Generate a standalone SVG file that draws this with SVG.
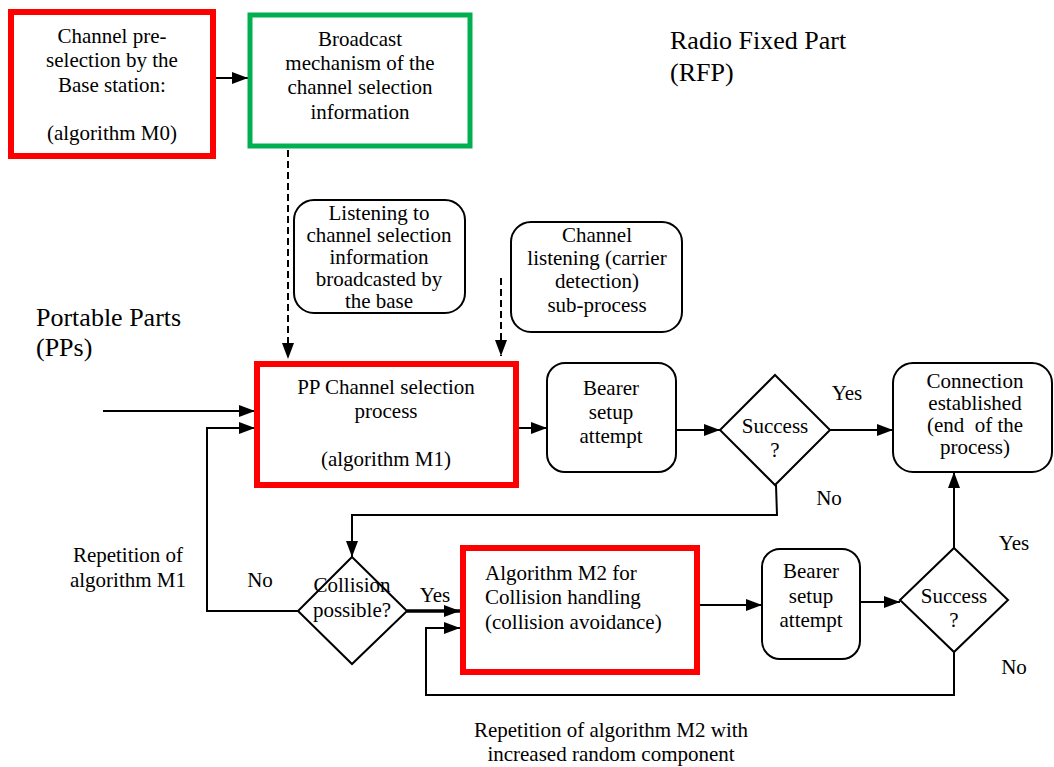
<svg xmlns="http://www.w3.org/2000/svg" width="1054" height="767" viewBox="0 0 1054 767" font-family="Liberation Serif, Times New Roman, serif">
<defs>
<marker id="ah" viewBox="0 0 16 12" refX="16" refY="6" markerWidth="16" markerHeight="12" markerUnits="userSpaceOnUse" orient="auto">
<path d="M0,0 L16,6 L0,12 z" fill="#000"/>
</marker>
</defs>
<style>
text{font-size:21px;fill:#000}
.c{text-anchor:middle}
.big{font-size:26px}
.red{fill:#fff;stroke:#ff0000;stroke-width:6}
.green{fill:#fff;stroke:#00b050;stroke-width:5}
.rnd{fill:#fff;stroke:#000;stroke-width:2}
.dia{fill:#fff;stroke:#000;stroke-width:2}
.ln{fill:none;stroke:#000;stroke-width:2;marker-end:url(#ah)}
.dash{fill:none;stroke:#000;stroke-width:2;stroke-dasharray:7 4;marker-end:url(#ah)}
</style>
<rect width="1054" height="767" fill="#fff"/>

<g id="connectors">
<line class="ln" x1="214" y1="78" x2="248" y2="78"/>
<line class="dash" x1="288" y1="150" x2="288" y2="359"/>
<line class="dash" x1="501" y1="278" x2="501" y2="356"/>
<line class="ln" x1="103" y1="411" x2="255" y2="411"/>
<polyline class="ln" points="298,611 207,611 207,428 255,428"/>
<line class="ln" x1="519" y1="428" x2="547" y2="428"/>
<line class="ln" x1="676" y1="430" x2="720" y2="430"/>
<line class="ln" x1="830" y1="430" x2="893" y2="430"/>
<polyline class="ln" points="776,485 777,515 352,515 352,557"/>
<line class="ln" x1="407" y1="611" x2="460" y2="611" style="stroke-width:3.5"/>
<line class="ln" x1="697" y1="605" x2="762" y2="605"/>
<line class="ln" x1="860" y1="602" x2="900" y2="602"/>
<line class="ln" x1="954" y1="548" x2="954" y2="472"/>
<polyline class="ln" points="954,652 954,695 426,695 426,628 460,628"/>
</g>

<g id="m0">
<rect class="red" x="11" y="12" width="202" height="144"/>
<text class="c" x="112" y="43">Channel pre-</text>
<text class="c" x="112" y="67">selection by the</text>
<text class="c" x="112" y="92">Base station:</text>
<text class="c" x="112" y="140">(algorithm M0)</text>
</g>

<g id="broadcast">
<rect class="green" x="250" y="15" width="220" height="131"/>
<text class="c" x="360" y="46">Broadcast</text>
<text class="c" x="360" y="70">mechanism of the</text>
<text class="c" x="360" y="94">channel selection</text>
<text class="c" x="360" y="119">information</text>
</g>

<g id="rfp">
<text class="big" x="670" y="49">Radio Fixed Part</text>
<text class="big" x="670" y="81">(RFP)</text>
</g>

<g id="listening">
<rect class="rnd" x="294" y="200" width="171" height="113" rx="20"/>
<text class="c" x="379" y="220">Listening to</text>
<text class="c" x="379" y="242">channel selection</text>
<text class="c" x="379" y="264">information</text>
<text class="c" x="379" y="286">broadcasted by</text>
<text class="c" x="379" y="308">the base</text>
</g>

<g id="carrier">
<rect class="rnd" x="511" y="222" width="171" height="110" rx="20"/>
<text class="c" x="597" y="242">Channel</text>
<text class="c" x="597" y="265">listening (carrier</text>
<text class="c" x="597" y="288">detection)</text>
<text class="c" x="597" y="312">sub-process</text>
</g>

<g id="pps">
<text class="big" x="36" y="326">Portable Parts</text>
<text class="big" x="36" y="356">(PPs)</text>
</g>

<g id="m1">
<rect class="red" x="257" y="364" width="259" height="121"/>
<text class="c" x="386" y="394">PP Channel selection</text>
<text class="c" x="386" y="418">process</text>
<text class="c" x="386" y="466">(algorithm M1)</text>
</g>

<g id="bearer1">
<rect class="rnd" x="547" y="363" width="129" height="109" rx="18"/>
<text class="c" x="611" y="395">Bearer</text>
<text class="c" x="611" y="419">setup</text>
<text class="c" x="611" y="443">attempt</text>
</g>

<g id="success1">
<polygon class="dia" points="775,375 830,430 775,485 720,430"/>
<text class="c" x="775" y="433">Success</text>
<text class="c" x="775" y="457">?</text>
<text class="c" x="847" y="400">Yes</text>
<text class="c" x="829" y="505">No</text>
</g>

<g id="connection">
<rect class="rnd" x="893" y="363" width="159" height="109" rx="20"/>
<text class="c" x="975" y="388">Connection</text>
<text class="c" x="975" y="410">established</text>
<text class="c" x="975" y="432" xml:space="preserve">(end  of the</text>
<text class="c" x="975" y="454">process)</text>
</g>

<g id="repM1">
<text class="c" x="128" y="562">Repetition of</text>
<text class="c" x="128" y="587">algorithm M1</text>
<text class="c" x="260" y="587">No</text>
</g>

<g id="collision">
<polygon class="dia" points="352,557 407,611 352,664 298,611"/>
<text class="c" x="352" y="592">Collision</text>
<text class="c" x="352" y="617">possible?</text>
<text class="c" x="435" y="602">Yes</text>
</g>

<g id="m2">
<rect class="red" x="463" y="548" width="234" height="124"/>
<text x="485" y="580">Algorithm M2 for</text>
<text x="485" y="604">Collision handling</text>
<text x="485" y="629">(collision avoidance)</text>
</g>

<g id="bearer2">
<rect class="rnd" x="762" y="549" width="98" height="110" rx="18"/>
<text class="c" x="811" y="578">Bearer</text>
<text class="c" x="811" y="603">setup</text>
<text class="c" x="811" y="627">attempt</text>
</g>

<g id="success2">
<polygon class="dia" points="954,548 1008,600 954,652 900,600"/>
<text class="c" x="954" y="603">Success</text>
<text class="c" x="954" y="627">?</text>
<text class="c" x="1014" y="550">Yes</text>
<text class="c" x="1014" y="674">No</text>
</g>

<g id="repM2">
<text class="c" x="611" y="737">Repetition of algorithm M2 with</text>
<text class="c" x="611" y="761">increased random component</text>
</g>
</svg>
